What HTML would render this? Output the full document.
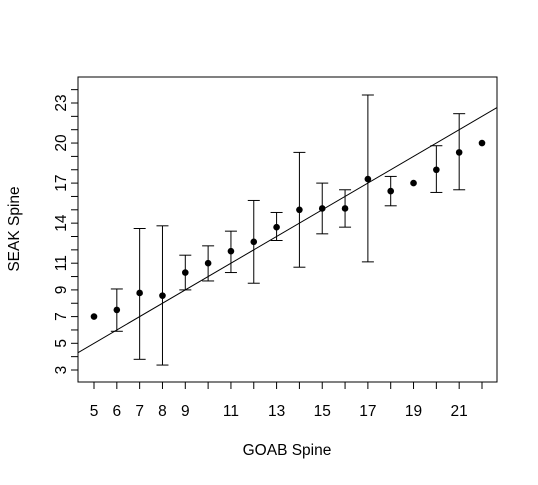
<!DOCTYPE html>
<html><head><meta charset="utf-8"><style>
body{margin:0;background:#fff;}
svg text{font-family:"Liberation Sans",Arial,sans-serif;font-size:15.5px;fill:#000;}
</style></head><body>
<svg id="chart" width="538" height="480" xmlns="http://www.w3.org/2000/svg"></svg>
<script>
const categories=[5,6,7,8,9,10,11,12,13,14,15,16,17,18,19,20,21,22];
const means=[7.0,7.5,8.77,8.57,10.3,11.0,11.9,12.6,13.7,15.0,15.1,15.1,17.3,16.4,17.0,18.0,19.3,20.0];
const upper=[null,9.07,13.6,13.8,11.6,12.3,13.4,15.7,14.8,19.3,17.0,16.5,23.6,17.5,null,19.8,22.2,null];
const lower=[null,5.9,3.8,3.37,9.0,9.67,10.3,9.5,12.7,10.7,13.2,13.7,11.1,15.3,null,16.3,16.5,null];
const xTicks=[5,6,7,8,9,10,11,12,13,14,15,16,17,18,19,20,21,22];
const xLabels=[5,6,7,8,9,11,13,15,17,19,21];
const yTicks=[3,4,5,6,7,8,9,10,11,12,13,14,15,16,17,18,19,20,21,22,23,24];
const yLabels=[3,5,7,9,11,14,17,20,23];
const abline=[0,1];
const L=78,R=497,T=77,B=382;
const X=v=>94+(v-5)*(482-94)/17;
const Y=v=>370-(v-3)*13.35;
const X2=px=>5+(px-94)*17/(482-94);
const svg=document.getElementById('chart');
const NS='http://www.w3.org/2000/svg';
function mk(tag,attrs,name,parent){const e=document.createElementNS(NS,tag);for(const k in attrs)e.setAttribute(k,attrs[k]);


(parent||svg).appendChild(e);return e;}
mk('rect',{x:L,y:T,width:R-L,height:B-T,fill:'none',stroke:'#000','stroke-width':1},'plot-frame');
xTicks.forEach(v=>mk('line',{x1:X(v),x2:X(v),y1:B,y2:B+7,stroke:'#000'},'x-tick'));
xLabels.forEach(v=>{const t=mk('text',{x:X(v),y:416,'text-anchor':'middle'},'x-tick-label');t.textContent=v;});
yTicks.forEach(v=>mk('line',{x1:L,x2:L-7,y1:Y(v),y2:Y(v),stroke:'#000'},'y-tick'));
yLabels.forEach(v=>{const t=mk('text',{x:0,y:0,'text-anchor':'middle',transform:`translate(66,${Y(v)}) rotate(-90)`},'y-tick-label');t.textContent=v;});
const xt=mk('text',{x:287,y:455,'text-anchor':'middle'},'x-axis-title');xt.textContent='GOAB Spine';
const yt=mk('text',{x:0,y:0,'text-anchor':'middle',transform:'translate(19,229) rotate(-90)'},'y-axis-title');yt.textContent='SEAK Spine';
const clip=mk('clipPath',{id:'pc'},'plot-clip');mk('rect',{x:L,y:T,width:R-L,height:B-T},'clip-rect',clip);
const xa=X2(L),xb=X2(R);
mk('line',{x1:L,y1:Y(abline[0]+abline[1]*xa),x2:R,y2:Y(abline[0]+abline[1]*xb),stroke:'#000','clip-path':'url(#pc)'},'reference-line');
categories.forEach((c,i)=>{
 if(upper[i]!=null){
  const g=mk('g',{},'error-bar');
  mk('line',{x1:X(c),x2:X(c),y1:Y(upper[i]),y2:Y(lower[i]),stroke:'#000'},'error-bar-stem',g);
  mk('line',{x1:X(c)-6,x2:X(c)+6,y1:Y(upper[i]),y2:Y(upper[i]),stroke:'#000'},'error-bar-cap-top',g);
  mk('line',{x1:X(c)-6,x2:X(c)+6,y1:Y(lower[i]),y2:Y(lower[i]),stroke:'#000'},'error-bar-cap-bottom',g);
 }
 mk('circle',{cx:X(c),cy:Y(means[i]),r:3.3,fill:'#000'},'mean-point');
});
</script>
</body></html>
